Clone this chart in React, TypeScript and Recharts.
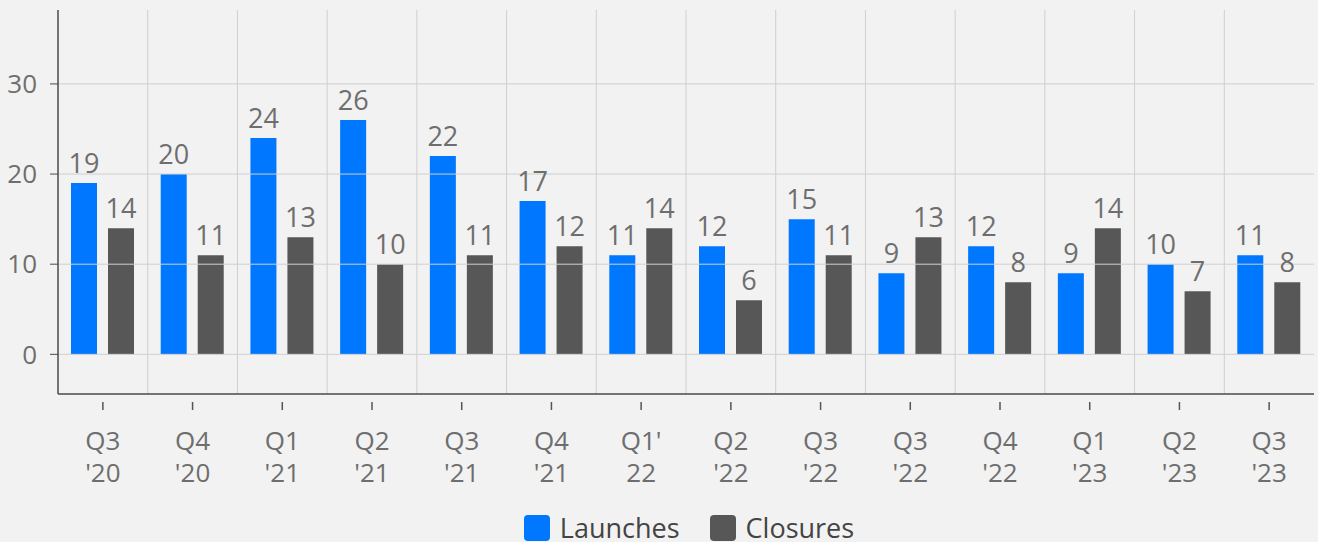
import React from "react";
import {
  BarChart,
  Bar,
  XAxis,
  YAxis,
  CartesianGrid,
  Legend,
  LabelList,
  ReferenceLine,
} from "recharts";

const quarters = ["Q3", "Q4", "Q1", "Q2", "Q3", "Q4", "Q1'", "Q2", "Q3", "Q3", "Q4", "Q1", "Q2", "Q3"];
const years = ["'20", "'20", "'21", "'21", "'21", "'21", "22", "'22", "'22", "'22", "'22", "'23", "'23", "'23"];
const launches = [19, 20, 24, 26, 22, 17, 11, 12, 15, 9, 12, 9, 10, 11];
const closures = [14, 11, 13, 10, 11, 12, 14, 6, 11, 13, 8, 14, 7, 8];
const yTicks = [0, 10, 20, 30];

const BLUE = "#0077ff";
const GRAY = "#575757";
const TEXT = "#6e6e6e";
const GRID = "#cfcfcf";
const FONT = "'Open Sans', 'Noto Sans', sans-serif";

const data = quarters.map((q, i) => ({
  key: String(i),
  quarter: q,
  year: years[i],
  launches: launches[i],
  closures: closures[i],
}));

function QuarterTick(props: any) {
  const { x, y, payload } = props;
  const row = data[Number(payload.value)];
  return (
    <g transform={`translate(${x},${y})`}>
      <line x1={0} x2={0} y1={0} y2={8} stroke="#555" strokeWidth={1.5} />
      <text textAnchor="middle" fill={TEXT} fontSize={26} fontFamily={FONT}>
        <tspan x={0} y={48}>{row.quarter}</tspan>
        <tspan x={0} y={80}>{row.year}</tspan>
      </text>
    </g>
  );
}

function LegendContent() {
  const items = [
    { name: "Launches", color: BLUE },
    { name: "Closures", color: GRAY },
  ];
  return (
    <div
      style={{
        display: "flex",
        justifyContent: "center",
        gap: 30,
        fontFamily: FONT,
        paddingTop: 6,
        paddingLeft: 64,
      }}
    >
      {items.map((it) => (
        <div key={it.name} style={{ display: "flex", alignItems: "center", gap: 10, height: 28 }}>
          <span
            style={{
              width: 26,
              height: 26,
              borderRadius: 4,
              background: it.color,
              display: "inline-block",
            }}
          />
          <span style={{ fontSize: 27, color: "#444", lineHeight: "28px" }}>{it.name}</span>
        </div>
      ))}
    </div>
  );
}

export default function App() {
  return (
    <div
      style={{
        position: "fixed",
        top: 0,
        left: 0,
        width: 1318,
        height: 542,
        background: "#f2f2f2",
        overflow: "hidden",
      }}
    >
      <BarChart
        width={1318}
        height={542}
        data={data}
        margin={{ top: 10, right: 4, left: 0, bottom: 0 }}
        barCategoryGap="15%"
        barGap={11}
      >
        <CartesianGrid
          stroke={GRID}
          horizontal={false}
          verticalCoordinatesGenerator={({ offset }: any) =>
            data.slice(1).map((_, i) => offset.left + (offset.width / data.length) * (i + 1))
          }
        />
        {yTicks.map((t) => (
          <ReferenceLine key={t} y={t} stroke={GRID} />
        ))}
        <XAxis
          dataKey="key"
          interval={0}
          height={114}
          tick={<QuarterTick />}
          tickLine={false}
          axisLine={{ stroke: "#4a4a4a", strokeWidth: 1.5 }}
        />
        <YAxis
          width={58}
          domain={[-4.4, 38.2]}
          ticks={yTicks}
          tickSize={8}
          tickMargin={13}
          tick={{ fontSize: 26, fill: TEXT, fontFamily: FONT }}
          tickLine={{ stroke: "#4a4a4a" }}
          axisLine={{ stroke: "#4a4a4a", strokeWidth: 1.5 }}
          allowDataOverflow
        />
        <Legend verticalAlign="bottom" content={<LegendContent />} wrapperStyle={{ height: 34 }} />
        <Bar dataKey="launches" name="Launches" fill={BLUE} barSize={26} isAnimationActive={false}>
          <LabelList dataKey="launches" position="top" offset={10} fill={TEXT} fontSize={27} fontFamily={FONT} />
        </Bar>
        <Bar dataKey="closures" name="Closures" fill={GRAY} barSize={26} isAnimationActive={false}>
          <LabelList dataKey="closures" position="top" offset={10} fill={TEXT} fontSize={27} fontFamily={FONT} />
        </Bar>
      </BarChart>
    </div>
  );
}
